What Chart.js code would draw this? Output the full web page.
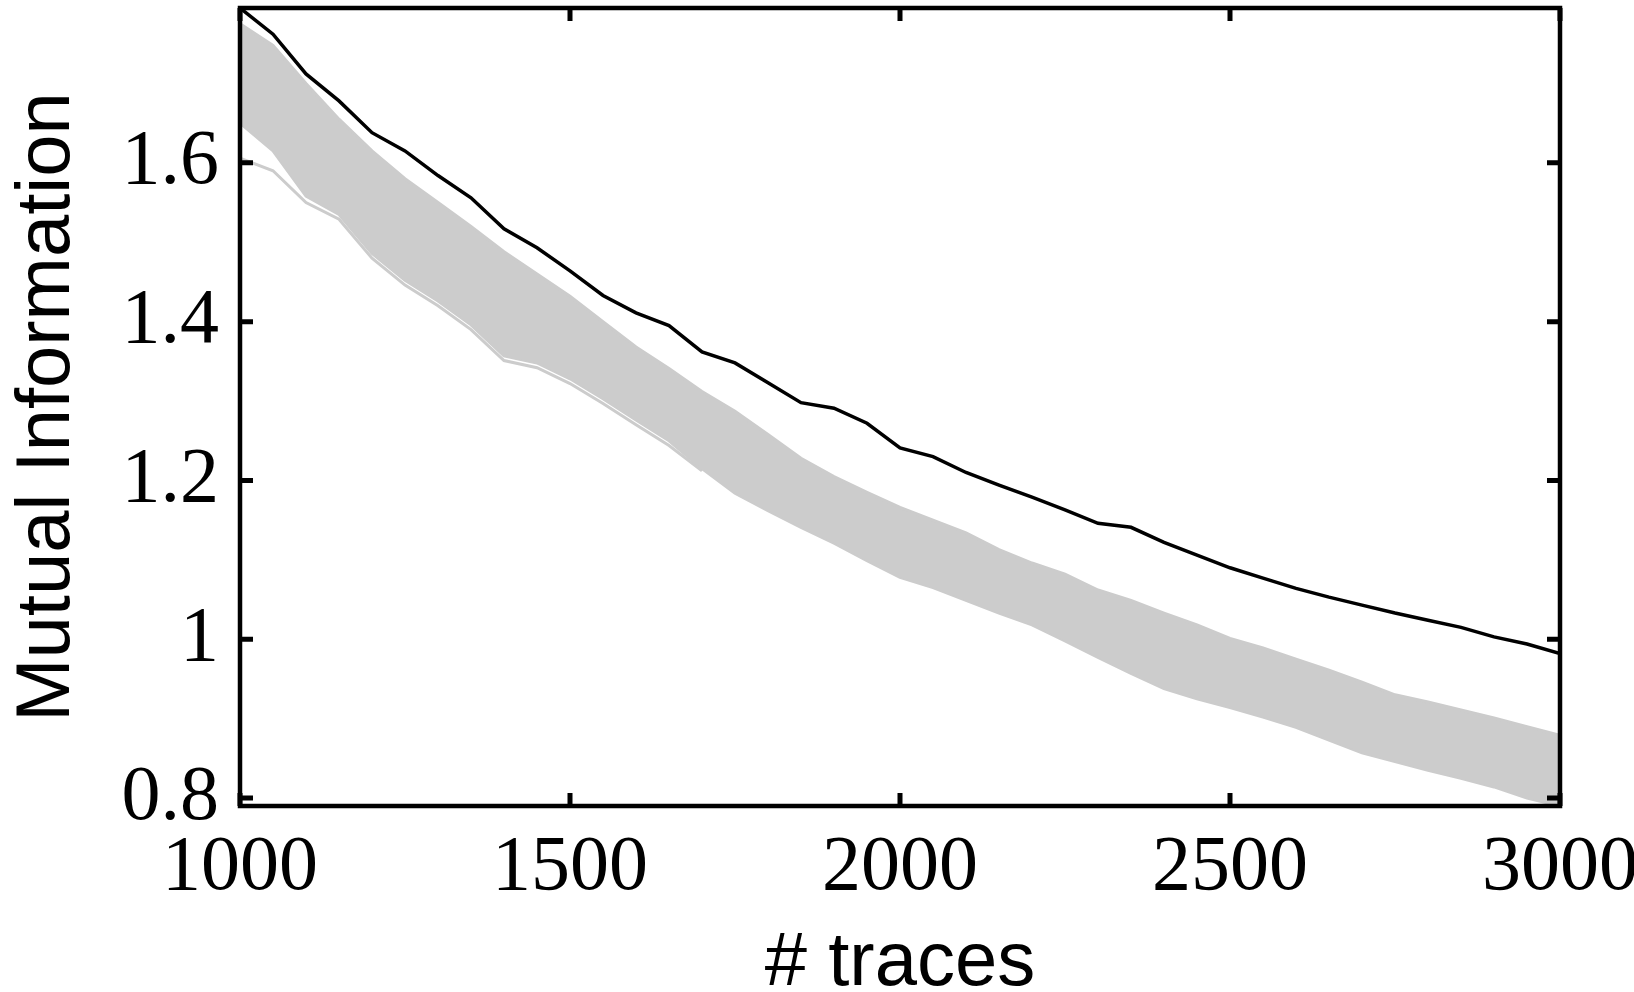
<!DOCTYPE html>
<html lang="en">

<head>
    <meta charset="UTF-8">
    <title>Mutual Information vs traces</title>
    <script src="https://cdn.jsdelivr.net/npm/chart.js"></script>
    <style>
        body {
            margin: 0;
            background: #ffffff;
            overflow: hidden;
        }

        #mi_chart {
            display: block;
        }
    </style>
</head>

<body>

    <canvas id="mi_chart" width="1634" height="992"></canvas>

    <script>
        // every 50 traces
        const traceX = [1000, 1050, 1100, 1150, 1200, 1250, 1300, 1350, 1400, 1450, 1500,
            1550, 1600, 1650, 1700, 1750, 1800, 1850, 1900, 1950, 2000,
            2050, 2100, 2150, 2200, 2250, 2300, 2350, 2400, 2450, 2500,
            2550, 2600, 2650, 2700, 2750, 2800, 2850, 2900, 2950, 3000];

        // black curve
        const blackMI = [1.795, 1.762, 1.712, 1.678, 1.638, 1.615, 1.584, 1.556, 1.517, 1.493, 1.464,
            1.433, 1.411, 1.395, 1.362, 1.348, 1.323, 1.298, 1.291, 1.272, 1.241,
            1.230, 1.210, 1.194, 1.179, 1.163, 1.146, 1.141, 1.122, 1.106, 1.090,
            1.077, 1.064, 1.053, 1.043, 1.033, 1.024, 1.015, 1.003, 0.994, 0.982];

        // grey band: upper and lower edge of the bundle of grey traces
        const greyTop = [1.775, 1.748, 1.700, 1.655, 1.615, 1.580, 1.550, 1.520, 1.488, 1.460, 1.432,
            1.400, 1.368, 1.341, 1.312, 1.287, 1.258, 1.228, 1.205, 1.185, 1.166,
            1.150, 1.134, 1.113, 1.096, 1.082, 1.062, 1.049, 1.033, 1.018, 1.001,
            0.989, 0.975, 0.961, 0.946, 0.930, 0.921, 0.911, 0.901, 0.890, 0.879];
        const greyLow = [1.650, 1.615, 1.558, 1.535, 1.486, 1.452, 1.426, 1.396, 1.357, 1.348, 1.328,
            1.303, 1.276, 1.250, 1.215, 1.184, 1.162, 1.141, 1.121, 1.099, 1.078,
            1.065, 1.049, 1.033, 1.018, 0.998, 0.977, 0.957, 0.938, 0.925, 0.914,
            0.902, 0.889, 0.873, 0.857, 0.846, 0.835, 0.825, 0.814, 0.800, 0.790];

        // lowest grey trace at the start
        const greyOutX = [1000, 1050, 1100, 1150, 1200, 1250, 1300, 1350, 1400, 1450, 1500,
            1550, 1600, 1650, 1700];
        const greyOut = [1.606, 1.590, 1.550, 1.529, 1.480, 1.446, 1.420, 1.390, 1.351, 1.342, 1.322,
            1.297, 1.270, 1.244, 1.212];

        const xTicks = [1000, 1500, 2000, 2500, 3000];
        const yTicks = [0.8, 1, 1.2, 1.4, 1.6];
        const yMin = 0.79, yMax = 1.795;

        const grey = '#cccccc';

        function toPoints(xs, ys) {
            return xs.map((x, i) => ({ x: x, y: ys[i] }));
        }

        // box round the plot and inward tick marks, like matlab
        const frameTicks = {
            id: 'frameTicks',
            afterDatasetsDraw(chart) {
                const { ctx, chartArea: a, scales: { x, y } } = chart;
                const len = 13;
                ctx.save();
                ctx.strokeStyle = '#000';
                ctx.lineWidth = 5;
                ctx.beginPath();
                x.ticks.forEach(t => {
                    const px = x.getPixelForValue(t.value);
                    ctx.moveTo(px, a.bottom);
                    ctx.lineTo(px, a.bottom - len);
                    ctx.moveTo(px, a.top);
                    ctx.lineTo(px, a.top + len);
                });
                y.ticks.forEach(t => {
                    const py = y.getPixelForValue(t.value);
                    ctx.moveTo(a.left, py);
                    ctx.lineTo(a.left + len, py);
                    ctx.moveTo(a.right, py);
                    ctx.lineTo(a.right - len, py);
                });
                ctx.stroke();
                ctx.lineWidth = 4.5;
                ctx.strokeRect(a.left, a.top, a.right - a.left, a.bottom - a.top);
                ctx.restore();
            }
        };

        new Chart(document.getElementById('mi_chart'), {
            type: 'line',
            data: {
                datasets: [
                    {
                        label: 'black',
                        data: toPoints(traceX, blackMI),
                        borderColor: '#000000',
                        borderWidth: 3.5,
                        fill: false
                    },
                    {
                        label: 'grey top',
                        data: toPoints(traceX, greyTop),
                        borderColor: grey,
                        backgroundColor: grey,
                        borderWidth: 3,
                        fill: '+1'
                    },
                    {
                        label: 'grey low',
                        data: toPoints(traceX, greyLow),
                        borderColor: grey,
                        borderWidth: 3,
                        fill: false
                    },
                    {
                        label: 'grey out',
                        data: toPoints(greyOutX, greyOut),
                        borderColor: grey,
                        borderWidth: 3,
                        fill: false
                    }
                ]
            },
            options: {
                responsive: false,
                animation: false,
                devicePixelRatio: 1,
                layout: {
                    padding: { top: 8, right: 74, bottom: 0, left: 0 }
                },
                elements: {
                    point: { radius: 0 },
                    line: { tension: 0, borderCapStyle: 'butt' }
                },
                plugins: {
                    legend: { display: false },
                    tooltip: { enabled: false }
                },
                scales: {
                    x: {
                        type: 'linear',
                        min: 1000,
                        max: 3000,
                        grid: { display: false, drawTicks: false },
                        border: { display: false },
                        afterBuildTicks: s => { s.ticks = xTicks.map(v => ({ value: v })); },
                        afterFit: s => { s.height = 186; s.paddingLeft = 0; s.paddingRight = 0; },
                        ticks: {
                            padding: 16,
                            maxRotation: 0,
                            autoSkip: false,
                            color: '#000',
                            font: { family: '"Liberation Serif", "Times New Roman", serif', size: 78, lineHeight: 1.2 },
                            callback: v => String(v)
                        },
                        title: {
                            display: true,
                            text: '# traces',
                            color: '#000',
                            padding: { top: 0, bottom: 9 },
                            font: { family: '"Liberation Sans", Arial, sans-serif', size: 76, lineHeight: 0.5 }
                        }
                    },
                    y: {
                        type: 'linear',
                        min: yMin,
                        max: yMax,
                        grid: { display: false, drawTicks: false },
                        border: { display: false },
                        afterBuildTicks: s => { s.ticks = yTicks.map(v => ({ value: v })); },
                        afterFit: s => { s.width = 240; s.paddingTop = 0; s.paddingBottom = 0; },
                        ticks: {
                            padding: 21,
                            autoSkip: false,
                            color: '#000',
                            font: { family: '"Liberation Serif", "Times New Roman", serif', size: 78, lineHeight: 1.2 },
                            callback: v => String(v)
                        },
                        title: {
                            display: true,
                            text: 'Mutual Information',
                            color: '#000',
                            padding: { top: 2, bottom: 0 },
                            font: { family: '"Liberation Sans", Arial, sans-serif', size: 76, lineHeight: 1.2 }
                        }
                    }
                }
            },
            plugins: [frameTicks]
        });
    </script>

</body>

</html>
